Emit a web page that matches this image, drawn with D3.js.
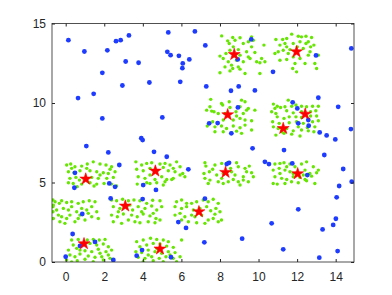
<!DOCTYPE html>
<html>
<head>
<meta charset="utf-8">
<script src="https://cdn.jsdelivr.net/npm/d3@7"></script>
<style>
    html, body { margin: 0; padding: 0; background: #fff; }
    .axis text { font-family: 'Liberation Sans', Arial, Helvetica, sans-serif; font-size: 12px; fill: #262626; }
    .axis line { stroke: #262626; }
</style>
</head>
<body>
<div id="chart"></div>
<script>
/*
 * Tick values.
 */
var xTicks = [0, 2, 4, 6, 8, 10, 12, 14];
var yTicks = [0, 5, 10, 15];
/*
 * Cluster centres (red stars).
 */
var centers = [
    [8.74, 13.05], [11.97, 13.22], [8.40, 9.26], [11.28, 8.40], [12.42, 9.30],
    [1.04, 5.22], [4.65, 5.72], [8.29, 5.64], [12.03, 5.55],
    [3.09, 3.52], [6.91, 3.16], [0.95, 1.15], [4.89, 0.82]
];
/*
 * Noise points (blue).
 */
var noise = [
    [0.14, 13.95], [0.97, 13.24], [2.16, 13.31], [2.61, 13.89], [2.85, 13.95], [3.28, 14.25],
    [5.32, 14.44], [6.70, 14.50], [3.11, 12.61], [1.90, 11.90], [3.78, 12.53], [5.27, 13.22],
    [5.44, 13.01], [5.87, 12.97], [6.41, 12.74], [6.07, 12.49], [6.05, 12.19], [4.34, 11.29],
    [2.94, 11.10], [5.94, 11.33], [0.64, 10.31], [1.45, 10.58], [1.90, 9.03], [5.01, 9.09],
    [3.92, 7.79], [1.07, 7.29], [7.24, 13.62], [9.62, 14.00], [8.92, 12.74], [12.98, 12.99],
    [14.81, 13.43], [10.75, 11.96], [7.29, 11.04], [8.57, 10.77], [8.97, 11.04], [9.81, 10.79],
    [13.10, 10.33], [14.13, 9.76], [14.79, 8.36], [13.53, 7.96], [13.98, 7.71], [13.17, 8.15],
    [12.60, 8.57], [12.58, 8.93], [12.01, 9.66], [11.77, 10.04], [12.06, 8.72], [8.93, 9.72],
    [7.44, 8.72], [7.88, 8.74], [8.59, 8.09], [9.69, 7.15], [11.32, 7.04], [3.99, 7.67],
    [2.21, 6.89], [4.58, 6.93], [5.24, 6.62], [2.78, 6.10], [0.48, 5.61], [0.45, 4.67],
    [2.26, 4.94], [2.56, 4.73], [4.02, 4.84], [4.68, 4.53], [6.36, 5.83], [2.33, 4.00],
    [3.99, 3.96], [0.86, 3.02], [5.84, 2.51], [6.24, 2.14], [0.36, 1.76], [0.74, 1.01],
    [1.52, 1.26], [0.00, 0.33], [2.47, 0.13], [3.96, 0.75], [3.68, 0.40], [5.46, 0.30],
    [13.41, 6.73], [14.39, 5.85], [14.83, 5.05], [14.18, 4.78], [14.05, 4.07], [14.01, 2.72],
    [13.87, 2.33], [13.32, 2.05], [14.10, 0.69], [13.15, 0.27], [11.28, 0.80], [12.06, 3.31],
    [10.68, 2.43], [9.15, 1.47], [7.19, 1.24], [7.22, 3.98], [10.33, 6.30], [10.54, 6.16],
    [11.75, 6.20], [12.53, 5.47], [8.35, 6.16], [8.47, 6.24]
];
/*
 * Cluster members (green), one array per cluster.
 */
var clusterTopLeft = [
    [8.09, 14.22], [8.66, 14.12], [9.04, 14.10], [9.64, 14.16], [8.40, 13.91], [8.78, 13.95],
    [9.47, 13.85], [8.48, 13.74], [9.21, 13.74], [9.73, 13.95], [10.28, 13.64], [8.69, 13.53],
    [8.31, 13.11], [8.95, 13.36], [9.38, 13.22], [9.81, 13.18], [10.16, 12.80], [8.00, 12.95],
    [8.43, 12.59], [8.86, 12.69], [9.21, 12.59], [9.56, 12.80], [9.90, 12.59], [10.07, 12.53],
    [8.60, 12.38], [8.95, 12.27], [9.04, 12.13], [8.00, 11.90], [8.52, 12.02], [9.30, 11.86],
    [10.07, 11.86], [8.26, 12.27], [8.78, 12.95], [9.64, 13.53], [9.47, 12.90], [9.04, 13.01],
    [8.17, 12.80], [10.33, 12.59], [8.52, 13.32], [8.66, 12.17]
];
var clusterTopRight = [
    [10.90, 13.99], [11.25, 13.99], [11.46, 14.06], [11.72, 14.33], [12.06, 14.20], [12.46, 14.20],
    [12.75, 14.12], [11.11, 13.64], [11.46, 13.53], [11.80, 13.74], [12.15, 13.85], [12.58, 13.85],
    [12.87, 13.64], [11.02, 13.22], [11.28, 13.32], [11.63, 13.36], [12.32, 13.43], [12.67, 13.22],
    [13.10, 13.01], [11.11, 12.69], [11.46, 12.74], [11.80, 12.90], [12.15, 12.80], [12.41, 12.48],
    [12.92, 12.48], [11.77, 12.17], [11.97, 11.96], [13.01, 12.17], [10.85, 13.11], [11.54, 13.11],
    [12.23, 14.16], [12.58, 13.01], [11.37, 13.74], [12.70, 13.53], [11.89, 12.48], [12.46, 13.74],
    [12.01, 13.53]
];
var clusterMidLeft = [
    [7.52, 10.23], [8.08, 9.97], [8.48, 10.08], [9.12, 10.18], [9.30, 10.08], [7.31, 9.55],
    [7.57, 9.49], [7.69, 9.45], [8.14, 9.87], [8.52, 9.72], [9.04, 9.76], [9.47, 9.66],
    [9.81, 9.55], [7.91, 9.34], [8.83, 9.45], [9.21, 9.34], [9.38, 9.55], [8.17, 8.93],
    [8.69, 8.93], [9.04, 9.03], [9.30, 8.93], [9.64, 8.88], [7.34, 8.55], [7.74, 8.50],
    [8.08, 8.55], [8.34, 8.40], [8.69, 8.55], [9.04, 8.44], [9.30, 8.61], [7.74, 8.19],
    [8.17, 8.19], [8.60, 8.13], [8.86, 8.23], [9.12, 8.09], [9.64, 8.30], [7.62, 8.82],
    [8.86, 9.18], [8.26, 9.34], [7.48, 9.76]
];
var clusterMidRight = [
    [11.54, 10.18], [10.77, 9.93], [10.97, 9.80], [11.14, 9.72], [11.37, 9.76], [11.72, 9.80],
    [11.94, 9.87], [12.23, 9.80], [12.49, 9.76], [12.80, 9.80], [13.10, 9.80], [10.68, 9.45],
    [10.90, 9.34], [11.46, 9.51], [11.80, 9.38], [12.23, 9.45], [12.70, 9.45], [12.97, 9.51],
    [13.01, 9.18], [10.97, 9.13], [11.32, 9.03], [11.59, 9.13], [11.94, 9.13], [12.23, 9.09],
    [12.70, 9.18], [10.73, 8.82], [11.07, 8.72], [11.59, 8.76], [11.97, 8.82], [12.32, 8.72],
    [12.80, 8.82], [13.10, 8.88], [10.77, 8.50], [11.02, 8.40], [11.46, 8.40], [11.80, 8.25],
    [12.23, 8.30], [12.58, 8.25], [12.92, 8.50], [11.32, 8.09], [11.72, 8.04], [12.15, 7.92],
    [10.90, 7.98], [12.87, 8.19], [10.85, 9.66], [12.53, 8.46], [12.06, 8.50], [11.20, 8.19]
];
var clusterRow5A = [
    [0.05, 6.10], [0.26, 6.16], [0.48, 5.99], [0.83, 6.03], [1.12, 6.16], [1.43, 6.30],
    [1.78, 6.16], [2.09, 6.10], [2.38, 5.99], [0.14, 5.68], [0.43, 5.61], [0.74, 5.74],
    [1.26, 5.74], [1.61, 5.68], [1.95, 5.61], [2.21, 5.57], [2.56, 5.68], [0.22, 5.26],
    [0.53, 5.32], [1.35, 5.32], [1.69, 5.26], [2.13, 5.26], [2.47, 5.32], [0.14, 4.98],
    [0.39, 4.94], [0.83, 4.90], [1.26, 4.98], [1.61, 4.90], [1.99, 4.94], [2.38, 4.90],
    [2.64, 4.78], [0.60, 4.74], [1.09, 5.89], [1.78, 5.47], [2.30, 5.83], [0.31, 5.89],
    [1.47, 4.78], [0.71, 5.15]
];
var clusterRow5B = [
    [3.64, 6.30], [3.94, 6.10], [4.20, 6.20], [4.46, 6.24], [4.89, 6.16], [5.15, 6.20],
    [5.41, 6.10], [5.75, 6.30], [3.68, 5.83], [4.02, 5.74], [4.37, 5.89], [4.72, 5.68],
    [5.06, 5.95], [5.32, 5.74], [5.58, 5.89], [5.93, 5.99], [3.76, 5.36], [4.11, 5.26],
    [4.37, 5.47], [4.98, 5.36], [5.24, 5.19], [5.58, 5.26], [5.93, 5.47], [6.18, 5.36],
    [3.71, 4.90], [3.99, 4.84], [4.37, 4.94], [4.72, 4.98], [5.15, 5.05], [5.50, 5.19],
    [6.07, 5.57], [4.20, 4.98], [4.63, 5.19], [5.06, 4.84], [5.67, 5.68]
];
var clusterRow5C = [
    [7.22, 6.24], [7.27, 6.03], [7.74, 6.10], [8.09, 6.20], [8.38, 6.24], [8.86, 6.24],
    [8.95, 5.99], [9.52, 6.03], [7.17, 5.57], [7.45, 5.68], [7.83, 5.47], [8.17, 5.57],
    [8.60, 5.68], [8.78, 5.47], [9.21, 5.36], [9.38, 5.68], [7.22, 5.26], [7.48, 5.15],
    [7.91, 5.05], [8.17, 4.94], [8.69, 5.19], [8.95, 5.05], [9.21, 5.15], [9.47, 5.05],
    [9.73, 5.36], [7.39, 4.94], [8.09, 5.26], [8.43, 5.05], [9.04, 4.84], [9.64, 5.61],
    [7.62, 5.83], [8.55, 5.89], [9.30, 5.89]
];
var clusterRow5D = [
    [10.85, 6.16], [11.11, 6.20], [11.32, 6.24], [11.63, 6.16], [11.89, 5.99], [12.23, 6.16],
    [12.49, 6.30], [12.84, 5.99], [13.10, 5.78], [10.76, 5.78], [11.07, 5.89], [11.37, 5.78],
    [11.63, 5.68], [11.98, 5.61], [12.41, 5.78], [12.66, 5.57], [13.01, 5.61], [10.85, 5.36],
    [11.20, 5.26], [11.46, 5.19], [11.80, 5.36], [12.15, 5.32], [12.41, 5.19], [12.75, 5.40],
    [10.76, 4.94], [10.97, 4.90], [11.37, 4.94], [11.71, 5.05], [12.06, 4.98], [12.49, 5.11],
    [12.92, 4.94], [11.46, 5.99], [11.80, 5.57], [12.32, 5.47], [11.11, 5.57]
];
var clusterRow3A = [
    [-0.66, 3.90], [-0.55, 3.79], [-0.64, 3.58], [-0.33, 3.69], [-0.21, 3.85], [0.05, 3.74],
    [0.31, 3.79], [0.65, 3.69], [0.91, 3.79], [1.22, 3.85], [1.52, 3.79], [-0.66, 3.16],
    [-0.47, 3.27], [-0.38, 2.95], [-0.12, 3.37], [0.14, 3.27], [0.31, 3.48], [0.57, 3.16],
    [0.83, 3.37], [1.09, 3.27], [1.35, 3.48], [1.61, 3.16], [-0.64, 2.74], [-0.30, 2.53],
    [0.05, 2.74], [0.22, 2.95], [0.65, 2.74], [1.00, 2.64], [1.35, 2.85], [1.69, 2.74],
    [-0.21, 2.85], [0.48, 2.53], [1.17, 3.06], [-0.66, 3.48], [-0.04, 2.43], [0.74, 2.95]
];
var clusterRow3B = [
    [2.38, 3.90], [2.64, 3.85], [2.95, 3.95], [3.25, 3.85], [3.54, 3.90], [3.85, 3.85],
    [4.20, 3.69], [4.51, 3.88], [4.89, 3.85], [2.47, 3.48], [2.81, 3.37], [3.16, 3.48],
    [3.47, 3.27], [3.76, 3.48], [4.11, 3.37], [4.46, 3.52], [4.72, 3.27], [4.98, 3.48],
    [2.38, 2.95], [2.68, 2.85], [2.99, 3.02], [3.42, 2.95], [3.71, 2.85], [4.02, 3.02],
    [4.37, 2.90], [4.68, 2.74], [2.47, 2.53], [2.90, 2.43], [3.25, 2.64], [3.59, 2.53],
    [3.85, 2.47], [4.28, 2.53], [4.63, 2.47], [4.89, 2.64], [2.73, 3.16], [3.94, 3.16],
    [4.54, 3.06], [3.33, 3.58]
];
var clusterRow3C = [
    [5.75, 3.79], [6.01, 3.90], [6.27, 3.69], [5.67, 3.48], [6.01, 3.37], [6.27, 3.48],
    [5.67, 2.95], [5.93, 3.06], [6.18, 2.85], [6.01, 2.64], [6.36, 2.53], [6.53, 3.69],
    [6.79, 3.79], [7.13, 3.90], [7.39, 3.79], [7.65, 3.95], [7.91, 3.69], [6.62, 3.27],
    [6.96, 3.37], [7.31, 3.48], [7.52, 3.22], [7.79, 3.37], [8.00, 3.16], [6.70, 2.85],
    [7.05, 2.95], [7.39, 2.64], [7.65, 2.74], [7.91, 2.53], [8.08, 2.64], [6.79, 2.47],
    [7.22, 2.43], [7.74, 3.01], [6.53, 2.95]
];
var clusterRow1A = [
    [0.31, 1.38], [0.65, 1.42], [1.12, 1.38], [1.43, 1.42], [1.74, 1.38], [2.04, 1.42],
    [0.39, 1.07], [0.83, 1.13], [1.26, 1.17], [1.61, 1.07], [1.95, 1.13], [2.21, 0.96],
    [0.14, 0.75], [0.57, 0.86], [1.00, 0.71], [1.35, 0.65], [1.69, 0.80], [2.09, 0.65],
    [2.38, 0.75], [0.22, 0.44], [0.48, 0.33], [0.74, 0.50], [1.17, 0.38], [1.52, 0.30],
    [1.87, 0.33], [2.21, 0.44], [0.05, 0.13], [0.60, 0.08], [1.00, 0.17], [1.43, 0.02],
    [1.95, 0.13], [2.30, 0.23], [0.74, 0.75], [1.78, 0.55], [0.31, 0.00]
];
var clusterRow1B = [
    [3.68, 1.28], [4.02, 1.38], [4.40, 1.49], [4.72, 1.42], [5.06, 1.38], [5.32, 1.28],
    [3.85, 0.96], [4.20, 1.07], [4.54, 1.17], [4.89, 1.13], [5.24, 1.00], [5.58, 0.92],
    [3.64, 0.65], [3.94, 0.59], [4.28, 0.75], [4.63, 0.65], [4.98, 0.55], [5.32, 0.65],
    [5.67, 0.59], [3.76, 0.30], [4.11, 0.23], [4.46, 0.33], [4.85, 0.23], [5.20, 0.33],
    [5.58, 0.23], [5.93, 0.33], [4.02, 0.02], [4.54, 0.08], [5.06, 0.02], [5.75, 0.02],
    [6.01, 1.38], [4.72, 0.86], [4.28, 0.44], [5.41, 0.44]
];
var clusters = [
    clusterTopLeft, clusterTopRight, clusterMidLeft, clusterMidRight,
    clusterRow5A, clusterRow5B, clusterRow5C, clusterRow5D,
    clusterRow3A, clusterRow3B, clusterRow3C, clusterRow1A, clusterRow1B
];


/**
 * Scatter chart in the style of a MATLAB figure.
 * @public
 * @class
 */
function ClusterPlot() {
    /**
     * Outer size.
     * @private
     * @member {Object}
     */
    this._size = {width: 392, height: 295};
    /**
     * Plot box margins.
     * @private
     * @member {Object}
     */
    this._margin = {top: 23.5, right: 38, bottom: 33, left: 52};
    /**
     * Scales.
     */
    this._xScale = d3.scaleLinear().domain([-0.71, 14.95]);
    this._yScale = d3.scaleLinear().domain([0, 15]);
}


/**
 * Render chart.
 * @public
 * @param {String} selection
 * @returns {ClusterPlot}
 */
ClusterPlot.prototype.renderTo = function(selection) {

    var m = this._margin;
    var w = this._size.width - m.left - m.right;
    var h = this._size.height - m.top - m.bottom;
    var x = this._xScale.range([0, w]);
    var y = this._yScale.range([h, 0]);

    var svg = d3.select(selection).append('svg')
        .attr('width', this._size.width)
        .attr('height', this._size.height)
        .style('display', 'block');

    svg.append('defs').append('clipPath')
        .attr('id', 'plot-clip')
        .append('rect')
        .attr('width', w)
        .attr('height', h);

    var g = svg.append('g')
        .attr('transform', 'translate(' + m.left + ',' + m.top + ')');
    /*
     * Cluster members.
     */
    var marks = g.append('g').attr('clip-path', 'url(#plot-clip)');

    marks.append('g')
        .selectAll('circle')
        .data(d3.merge(clusters))
        .join('circle')
        .attr('cx', d => x(d[0]))
        .attr('cy', d => y(d[1]))
        .attr('r', 1.7)
        .attr('fill', '#66e600');
    /*
     * Noise.
     */
    marks.append('g')
        .selectAll('circle')
        .data(noise)
        .join('circle')
        .attr('cx', d => x(d[0]))
        .attr('cy', d => y(d[1]))
        .attr('r', 2.4)
        .attr('fill', '#1e3cff');
    /*
     * Centres.
     */
    marks.append('g')
        .selectAll('path')
        .data(centers)
        .join('path')
        .attr('transform', d => 'translate(' + x(d[0]) + ',' + y(d[1]) + ')')
        .attr('d', d3.symbol(d3.symbolStar, 44))
        .attr('fill', '#ff0000')
        .attr('stroke', '#ff0000')
        .attr('stroke-width', 0.6);
    /*
     * Axes, ticks pointing inwards.
     */
    g.append('g')
        .attr('class', 'axis')
        .attr('transform', 'translate(0,' + h + ')')
        .call(d3.axisBottom(x).tickValues(xTicks).tickSizeInner(-3).tickSizeOuter(0).tickPadding(10));

    g.append('g')
        .attr('class', 'axis')
        .call(d3.axisTop(x).tickValues(xTicks).tickSizeInner(-3).tickSizeOuter(0).tickFormat(''));

    g.append('g')
        .attr('class', 'axis')
        .call(d3.axisLeft(y).tickValues(yTicks).tickSizeInner(-3).tickSizeOuter(0).tickPadding(6));

    g.append('g')
        .attr('class', 'axis')
        .attr('transform', 'translate(' + w + ',0)')
        .call(d3.axisRight(y).tickValues(yTicks).tickSizeInner(-3).tickSizeOuter(0).tickFormat(''));

    g.selectAll('.axis .domain').remove();
    /*
     * Box.
     */
    g.append('rect')
        .attr('width', w)
        .attr('height', h)
        .attr('fill', 'none')
        .attr('stroke', '#262626')
        .attr('stroke-width', 0.8);

    return this;
};


new ClusterPlot().renderTo('#chart');
</script>
</body>
</html>
